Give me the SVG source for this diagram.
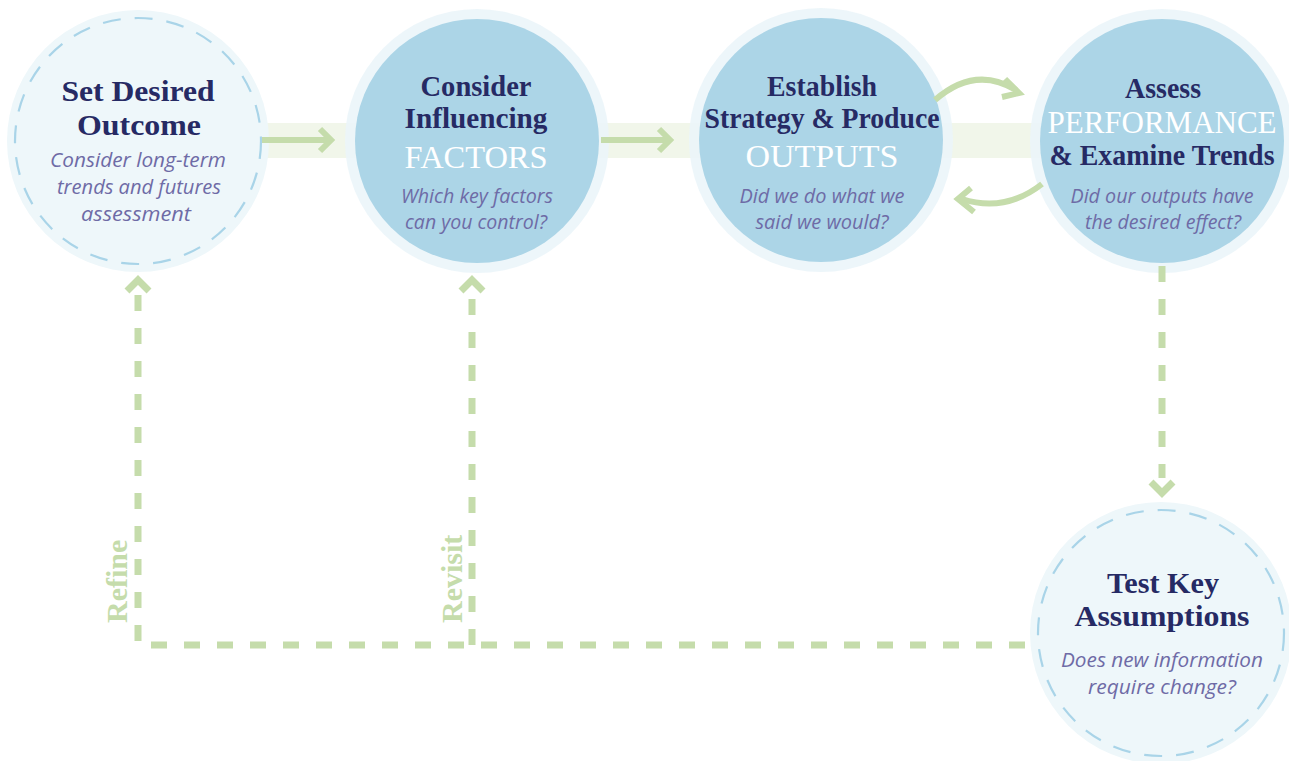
<svg xmlns="http://www.w3.org/2000/svg" width="1289" height="761" viewBox="0 0 1289 761">
<defs>
<style>
.ring{fill:#ebf5f9}
.blue{fill:#acd5e7}
.pale{fill:#eef7fa}
.dash{fill:none;stroke:#a9d4e8;stroke-width:2.2;stroke-dasharray:18 14}
.t{font-family:"Liberation Serif",serif;font-weight:bold;font-size:30px;fill:#262a64;text-anchor:middle}
.cap{font-family:"Liberation Serif",serif;font-size:32px;fill:#ffffff;text-anchor:middle}
.s{font-family:"Open Sans",sans-serif;font-style:italic;font-size:20px;fill:#6e6ba6;text-anchor:middle}
.g{fill:none;stroke:#c5dcab;stroke-width:6}
.gd{fill:none;stroke:#c5dcab;stroke-width:7;stroke-dasharray:16 17}
.lbl{font-family:"Liberation Serif",serif;font-weight:bold;font-size:30px;fill:#c5dcab}
</style>
</defs>
<rect width="1289" height="761" fill="#ffffff"/>
<rect x="258" y="123" width="790" height="35" fill="#f1f6ea"/>
<g id="node-set-desired-outcome">
<circle cx="138" cy="141" r="131" class="pale"/>
<circle cx="138" cy="141" r="123" class="dash"/>
<text class="t" x="138" y="101" textLength="153" lengthAdjust="spacingAndGlyphs">Set Desired</text>
<text class="t" x="139" y="135" textLength="124" lengthAdjust="spacingAndGlyphs">Outcome</text>
<text class="s" x="138" y="167" textLength="176" lengthAdjust="spacingAndGlyphs">Consider long-term</text>
<text class="s" x="139" y="194" textLength="164" lengthAdjust="spacingAndGlyphs">trends and futures</text>
<text class="s" x="136" y="221" textLength="110" lengthAdjust="spacingAndGlyphs">assessment</text>
</g>
<g id="node-consider-factors">
<circle cx="477" cy="141" r="132" class="ring" opacity="0.9"/>
<circle cx="477" cy="141" r="122" class="blue"/>
<text class="t" x="476" y="96" textLength="111" lengthAdjust="spacingAndGlyphs">Consider</text>
<text class="t" x="476" y="128" textLength="143" lengthAdjust="spacingAndGlyphs">Influencing</text>
<text class="cap" x="476" y="168" textLength="143" lengthAdjust="spacingAndGlyphs">FACTORS</text>
<text class="s" x="477" y="203" textLength="152" lengthAdjust="spacingAndGlyphs">Which key factors</text>
<text class="s" x="476" y="229" textLength="142" lengthAdjust="spacingAndGlyphs">can you control?</text>
</g>
<g id="node-establish-strategy">
<circle cx="821" cy="140" r="132" class="ring" opacity="0.9"/>
<circle cx="821" cy="140" r="122" class="blue"/>
<text class="t" x="822" y="96" textLength="110" lengthAdjust="spacingAndGlyphs">Establish</text>
<text class="t" x="822" y="128" textLength="235" lengthAdjust="spacingAndGlyphs">Strategy &amp; Produce</text>
<text class="cap" x="822" y="167" textLength="153" lengthAdjust="spacingAndGlyphs">OUTPUTS</text>
<text class="s" x="822" y="203" textLength="165" lengthAdjust="spacingAndGlyphs">Did we do what we</text>
<text class="s" x="822" y="229" textLength="133" lengthAdjust="spacingAndGlyphs">said we would?</text>
</g>
<g id="node-assess-performance">
<circle cx="1162" cy="141" r="132" class="ring" opacity="0.9"/>
<circle cx="1162" cy="141" r="122" class="blue"/>
<text class="t" x="1163" y="98" textLength="76" lengthAdjust="spacingAndGlyphs">Assess</text>
<text class="cap" x="1162" y="133" textLength="229" lengthAdjust="spacingAndGlyphs">PERFORMANCE</text>
<text class="t" x="1162" y="165" textLength="225" lengthAdjust="spacingAndGlyphs">&amp; Examine Trends</text>
<text class="s" x="1162" y="203" textLength="183" lengthAdjust="spacingAndGlyphs">Did our outputs have</text>
<text class="s" x="1163" y="229" textLength="156" lengthAdjust="spacingAndGlyphs">the desired effect?</text>
</g>
<g id="node-test-assumptions">
<circle cx="1161" cy="633" r="131" class="pale"/>
<circle cx="1161" cy="633" r="123" class="dash"/>
<text class="t" x="1163" y="593" textLength="112" lengthAdjust="spacingAndGlyphs">Test Key</text>
<text class="t" x="1162" y="626" textLength="175" lengthAdjust="spacingAndGlyphs">Assumptions</text>
<text class="s" x="1162" y="667" textLength="202" lengthAdjust="spacingAndGlyphs">Does new information</text>
<text class="s" x="1162" y="694" textLength="148" lengthAdjust="spacingAndGlyphs">require change?</text>
</g>
<g id="connectors">
<line class="g" x1="262" y1="140" x2="330" y2="140"/>
<polyline class="g" points="320,129 331,140 320,151"/>
<line class="g" x1="601" y1="140" x2="669" y2="140"/>
<polyline class="g" points="659,129 670,140 659,151"/>
<path class="g" d="M935 100 Q975 65 1016 90"/>
<polyline class="g" points="1005,79 1019,93 1002,97"/>
<path class="g" d="M1042 184 Q1005 213 962 199"/>
<polyline class="g" points="974,212 958,199 971,188"/>
<path class="gd" d="M1025 645 H138 V288"/>
<polyline class="g" style="stroke-width:7" points="127,291 138,280 149,291"/>
<path class="gd" d="M472 645 V288"/>
<polyline class="g" style="stroke-width:7" points="461,291 472,280 483,291"/>
<path class="gd" d="M1162 266 V478"/>
<polyline class="g" style="stroke-width:7" points="1151,482 1162,493 1173,482"/>
<text class="lbl" transform="translate(127,623) rotate(-90)">Refine</text>
<text class="lbl" transform="translate(462,623) rotate(-90)">Revisit</text>
</g>
</svg>
